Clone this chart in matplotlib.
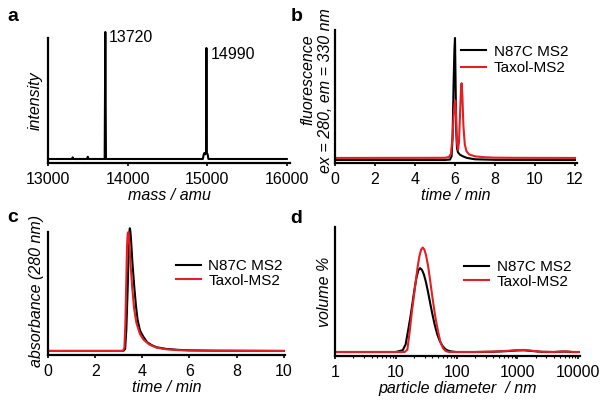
import matplotlib
matplotlib.use("Agg")
import matplotlib.pyplot as plt
from matplotlib.ticker import FixedLocator, FixedFormatter, LogLocator, NullFormatter

plt.rcParams['font.family'] = ['Liberation Sans', 'DejaVu Sans']
plt.rcParams['font.size'] = 11.5

RED = '#e41f23'
BLACK = '#000000'

# ---- panel a: mass spectrum ----
ms_mass = [13000, 13300, 13310, 13320, 13490, 13500, 13510, 13712, 13720, 13728,
           14945, 14955, 14965, 14975, 14985, 14990, 14995, 15005, 15015, 16000]
ms_int = [3.2, 3.2, 4.5, 3.2, 3.2, 5.0, 3.2, 3.2, 104.8, 3.2,
          3.2, 6.5, 8.0, 7.0, 8.5, 92.0, 8.0, 7.0, 3.2, 3.2]
ms_labels = ['13720', '14990']
ms_label_x = [13760, 15045]
ms_label_y = [100.4, 87.0]
ms_ticks = [13000, 14000, 15000, 16000]

# ---- panel b: fluorescence chromatogram ----
fl_t_black = [0, 5.5, 5.75, 5.83, 5.88, 5.93, 5.97, 6.0, 6.03, 6.06, 6.1, 6.15, 6.25,
              6.4, 6.6, 7.0, 8.0, 12]
fl_black = [2.3, 2.3, 2.6, 5, 20, 60, 85, 94, 60, 25, 11, 8, 6.2, 5, 3.8, 2.8, 2.4, 2.3]
fl_t_red = [0, 5.5, 5.7, 5.8, 5.87, 5.93, 5.98, 6.02, 6.06, 6.1, 6.15, 6.2, 6.25, 6.3,
            6.33, 6.37, 6.42, 6.49, 6.57, 6.7, 7.0, 7.5, 8.0, 9.0, 12]
fl_red = [3.8, 3.9, 4.5, 7, 18, 35, 45, 47, 32, 15, 10, 16, 36, 56, 60, 50, 28, 14, 9,
          6.5, 5, 4.3, 4.0, 3.9, 3.8]

# ---- panel c: absorbance chromatogram ----
ab_t_black = [0, 3.2, 3.27, 3.32, 3.38, 3.42, 3.45, 3.47, 3.49, 3.52, 3.58, 3.66, 3.73,
              3.80, 3.9, 4.04, 4.2, 4.39, 4.6, 5.0, 5.5, 6.0, 7.0, 10]
ab_black = [3.3, 3.3, 5, 20, 55, 85, 100, 103, 101, 94, 75, 55, 40, 28.5, 20, 14.9,
            10.5, 8.1, 6.3, 5.0, 4.2, 3.8, 3.5, 3.3]
ab_t_red = [0, 3.18, 3.24, 3.28, 3.32, 3.35, 3.38, 3.41, 3.44, 3.48, 3.57, 3.65, 3.75,
            3.9, 4.05, 4.3, 4.6, 5.0, 5.5, 6.0, 7.0, 10]
ab_red = [3.3, 3.3, 6, 25, 60, 88, 99, 100, 95, 80, 55, 38, 26, 17, 12.5, 8.5, 6.0,
          4.7, 4.0, 3.7, 3.5, 3.3]

# ---- panel d: DLS size distribution ----
dls_d_black = [1, 10, 13, 14.5, 16, 17.5, 19, 20.5, 22, 23.5, 25, 27, 29, 31, 34, 37,
               40, 44, 48, 53, 58, 65, 72, 80, 90, 100, 200, 400, 700, 1000, 1300,
               1800, 2500, 4000, 5500, 6500, 8000, 10700]
dls_black = [3.1, 3.1, 4.5, 9, 20.3, 31, 42.5, 53, 61.3, 66.4, 68.1, 66.7, 63.1, 58.1,
             49.3, 40.3, 32.3, 23.5, 16.9, 11.5, 8.1, 5.4, 4.2, 3.6, 3.3, 3.1, 3.1, 3.3,
             3.8, 4.3, 4.4, 3.8, 3.2, 3.1, 3.4, 3.4, 3.1, 3.1]
dls_d_red = [1, 10, 14, 15.5, 17, 18.5, 20, 21.5, 23, 24.5, 26, 27.7, 29.5, 31.5, 34,
             36.5, 39, 42, 45, 49, 54, 60, 66, 75, 200, 400, 700, 1000, 1300, 1800,
             2500, 4000, 5500, 6500, 8000, 10700]
dls_red = [3.1, 3.1, 3.1, 5, 20, 35.5, 47.6, 59.6, 70, 77.6, 82.3, 84.1, 82.5, 77.9,
           69.6, 59.5, 49.3, 38.6, 29.4, 20.1, 11, 6, 3.8, 3.1, 3.1, 3.4, 4.0, 4.6,
           4.7, 4.0, 3.3, 3.1, 3.5, 3.5, 3.1, 3.1]
dls_ticks = [1, 10, 100, 1000, 10000]
dls_ticklabels = ['1', '10', '100', '1000', '10000']

series_names = ['N87C MS2', 'Taxol-MS2']

W, H = 601, 404
fig = plt.figure(figsize=(W / 100, H / 100), dpi=100)


def box(l, r, b, t):
    return [l / W, 1 - b / H, (r - l) / W, (b - t) / H]


def style(ax):
    for s in ['top', 'right']:
        ax.spines[s].set_visible(False)
    for s in ['left', 'bottom']:
        ax.spines[s].set_linewidth(1.6)
    ax.set_yticks([])
    ax.tick_params(axis='x', direction='out', length=2.5, width=1.2, pad=4,
                   labelsize=11.5)
    ax.tick_params(axis='x', which='minor', direction='out', length=1.5, width=0.8)


LW = 1.5

# a
axa = fig.add_axes(box(48, 290, 163, 38))
axa.plot(ms_mass, ms_int, color=BLACK, lw=LW, clip_on=False)
axa.set_xlim(13000, 16040)
axa.set_ylim(0, 100)
axa.set_xticks(ms_ticks)
for lab, lx, ly in zip(ms_labels, ms_label_x, ms_label_y):
    axa.text(lx, ly, lab, ha='left', va='center', fontsize=11.5)
style(axa)
axa.set_xlabel('mass / amu', style='italic', labelpad=1)
axa.set_ylabel('intensity', style='italic', labelpad=4)

# b
axb = fig.add_axes(box(335, 577, 163, 30))
axb.plot(fl_t_black, fl_black, color=BLACK, lw=LW, label=series_names[0])
axb.plot(fl_t_red, fl_red, color=RED, lw=LW, label=series_names[1])
axb.set_xlim(0, 12.1)
axb.set_ylim(0, 100)
axb.set_xticks(list(range(0, 13, 2)))
style(axb)
axb.set_xlabel('time / min', style='italic', labelpad=1)
axb.legend(loc='upper left', bbox_to_anchor=(0.52, 0.89), frameon=False,
           borderpad=0, borderaxespad=0, handlelength=1.65, handletextpad=0.5,
           labelspacing=0.15, fontsize=11)
fig.text(308 / W, 1 - 79.5 / H, 'fluorescence', rotation=90, ha='center',
         va='center', style='italic', fontsize=11.5)
fig.text(325 / W, 1 - 91 / H, 'ex = 280, em = 330 nm', rotation=90, ha='center',
         va='center', style='italic', fontsize=11.5)

# c
axc = fig.add_axes(box(48, 285, 355, 232))
axc.plot(ab_t_black, ab_black, color=BLACK, lw=LW, label=series_names[0], clip_on=False)
axc.plot(ab_t_red, ab_red, color=RED, lw=LW, label=series_names[1], clip_on=False)
axc.set_xlim(0, 10.05)
axc.set_ylim(0, 100)
axc.set_xticks(list(range(0, 11, 2)))
style(axc)
axc.set_xlabel('time / min', style='italic', labelpad=1)
axc.legend(loc='upper left', bbox_to_anchor=(0.538, 0.78), frameon=False,
           borderpad=0, borderaxespad=0, handlelength=1.65, handletextpad=0.5,
           labelspacing=0.05, fontsize=11)
fig.text(37 / W, 1 - 291 / H, 'absorbance (280 nm)', rotation=90, ha='center',
         va='center', style='italic', fontsize=11.5)

# d
axd = fig.add_axes(box(335, 580, 356, 227))
axd.plot(dls_d_black, dls_black, color=BLACK, lw=LW, label=series_names[0])
axd.plot(dls_d_red, dls_red, color=RED, lw=LW, label=series_names[1])
axd.set_xscale('log')
axd.set_xlim(1, 10700)
axd.set_ylim(0, 100)
axd.xaxis.set_major_locator(FixedLocator(dls_ticks))
axd.xaxis.set_major_formatter(FixedFormatter(dls_ticklabels))
axd.xaxis.set_minor_locator(LogLocator(base=10, subs=range(2, 10), numticks=20))
axd.xaxis.set_minor_formatter(NullFormatter())
style(axd)
axd.set_xlabel('particle diameter  / nm', style='italic', labelpad=1)
axd.set_ylabel('volume %', style='italic', labelpad=2)
axd.legend(loc='upper left', bbox_to_anchor=(0.527, 0.745), frameon=False,
           borderpad=0, borderaxespad=0, handlelength=1.65, handletextpad=0.5,
           labelspacing=0.05, fontsize=11)

# panel letters
for letter, x, y in [('a', 7, 21), ('b', 291, 21), ('c', 7, 222), ('d', 290, 223)]:
    fig.text(x / W, 1 - y / H, letter, fontsize=14, fontweight='bold',
             ha='left', va='baseline')

fig.savefig('out.png', dpi=100)
